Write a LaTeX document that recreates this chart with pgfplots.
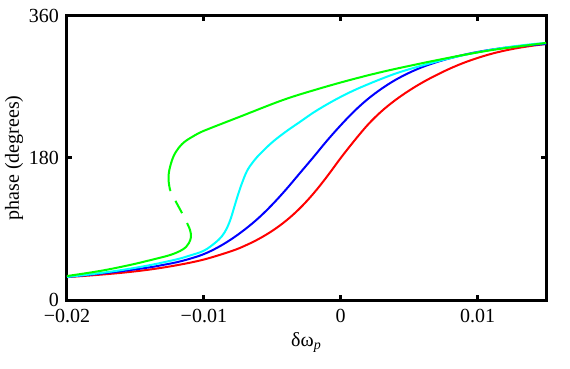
\documentclass[border=0pt]{standalone}
\usepackage{fontspec}
\setmainfont{Liberation Serif}
\usepackage{pgfplots}
\pgfplotsset{compat=1.18}
\definecolor{cR}{RGB}{255,0,0}
\definecolor{cB}{RGB}{0,0,255}
\definecolor{cC}{RGB}{0,255,255}
\definecolor{cG}{RGB}{0,255,0}
\begin{document}
\begin{tikzpicture}
\begin{axis}[
    width=239.5pt, height=142pt, scale only axis,
    xmin=-0.02, xmax=0.015,
    ymin=0, ymax=360,
    xtick={-0.02,-0.01,0,0.01},
    xticklabels={−0.02,−0.01,0,0.01},
    scaled x ticks=false,
    ytick={0,180,360},
    yticklabels={0,180,360},
    tick align=inside,
    major tick length=2.5pt,
    tick style={line width=1.5pt, black},
    axis line style={line width=1.5pt},
    ticklabel style={font=\fontsize{10}{12}\selectfont},
    xticklabel style={yshift=-1pt},
    yticklabel style={xshift=-0.5pt},
    xlabel={δω\textsubscript{\textit{p}}},
    ylabel={phase (degrees)},
    label style={font=\fontsize{10}{12}\selectfont},
    xlabel style={at={(axis description cs:0.5,0)}, anchor=base, yshift=-23pt},
    ylabel style={at={(axis description cs:0,0.5)}, anchor=base, yshift=24pt},
]
% red
\addplot[cR, line width=1pt, smooth, tension=0.6] coordinates {
 (-0.020,29.0) (-0.018,31.5) (-0.016,34.5) (-0.014,38.5) (-0.012,44.0)
 (-0.010,51.3) (-0.008,61.9) (-0.007,68.8) (-0.006,77.3) (-0.005,87.7)
 (-0.004,100.4) (-0.003,116.0) (-0.002,134.8) (-0.001,156.5) (0.000,180.0)
 (0.001,202.0) (0.002,222.5) (0.003,239.5) (0.004,253.5) (0.005,265.5)
 (0.006,276.0) (0.007,285.2) (0.008,293.5) (0.009,300.7) (0.010,306.8)
 (0.011,312.0) (0.012,316.2) (0.013,319.6) (0.014,322.3) (0.015,324.5)
};
% blue
\addplot[cB, line width=1pt, smooth, tension=0.6] coordinates {
 (-0.020,29.2) (-0.018,32.6) (-0.016,36.6) (-0.014,41.3) (-0.013,44.4)
 (-0.012,47.8) (-0.011,52.4) (-0.010,58.2) (-0.009,66.5) (-0.008,77.0)
 (-0.007,89.5) (-0.006,104.0) (-0.005,121.0) (-0.004,140.0) (-0.003,160.5)
 (-0.002,181.0) (-0.001,202.0) (0.000,221.5) (0.001,239.5) (0.002,255.0)
 (0.003,268.0) (0.004,279.0) (0.005,288.0) (0.006,295.5) (0.007,301.5)
 (0.008,306.5) (0.009,310.8) (0.010,314.4) (0.011,317.3) (0.012,319.7)
 (0.013,321.7) (0.014,323.2) (0.015,324.5)
};
% cyan
\addplot[cC, line width=1pt, smooth, tension=0.6] coordinates {
 (-0.020,29.2) (-0.018,33.2) (-0.016,38.0) (-0.014,44.0) (-0.012,51.5)
 (-0.011,56.5) (-0.010,62.5) (-0.00919,72.3) (-0.00867,81.1) (-0.00831,91.3)
 (-0.00802,103.9) (-0.00780,116.6) (-0.00751,133.1) (-0.00721,148.3)
 (-0.00685,163.5) (-0.00641,174.9) (-0.00590,185.1) (-0.005,200.0)
 (-0.004,213.5) (-0.003,225.5) (-0.002,237.5) (-0.001,248.0) (0.000,257.5)
 (0.001,266.0) (0.002,273.5) (0.003,280.5) (0.004,287.0) (0.005,292.5)
 (0.006,297.5) (0.007,302.2) (0.008,306.5) (0.009,310.5) (0.010,314.0)
 (0.011,317.2) (0.012,320.0) (0.013,322.3) (0.014,324.3) (0.015,325.8)
};
% green, lower stable branch
\addplot[cG, line width=1pt, smooth, tension=0.6] coordinates {
 (-0.02,30.4) (-0.01759,36.8) (-0.01540,44.4) (-0.01357,52.0) (-0.01247,57.0)
 (-0.01174,62.1) (-0.01130,67.2) (-0.01109,72.3) (-0.01094,79.9)
 (-0.01101,88.7) (-0.01123,97.6)
};
% green, unstable branch
\addplot[cG, line width=1pt, smooth, tension=0.6, dash pattern=on 7pt off 5.5pt, dash phase=7pt] coordinates {
 (-0.01123,97.6) (-0.01160,110.3) (-0.01211,126.8) (-0.01247,139.4)
};
% green, upper stable branch
\addplot[cG, line width=1pt, smooth, tension=0.6] coordinates {
 (-0.01247,139.4) (-0.01258,152.0) (-0.01252,165.0) (-0.01223,181.6)
 (-0.01182,193.3) (-0.01138,200.9) (-0.01087,206.6) (-0.01028,212.3)
 (-0.00955,217.6) (-0.00736,232.4)
 (-0.00422,253.5) (-0.00173,267.1) (0.00068,278.9)
 (0.00309,289.4) (0.00557,298.8) (0.00725,304.8) (0.00894,310.5)
 (0.01142,317.8) (0.015,325.8)
};
\end{axis}
\pgfresetboundingbox
\path ([shift={(-33.5pt,-34pt)}]current axis.south west) rectangle ([shift={(12pt,8pt)}]current axis.north east);
\end{tikzpicture}
\end{document}
